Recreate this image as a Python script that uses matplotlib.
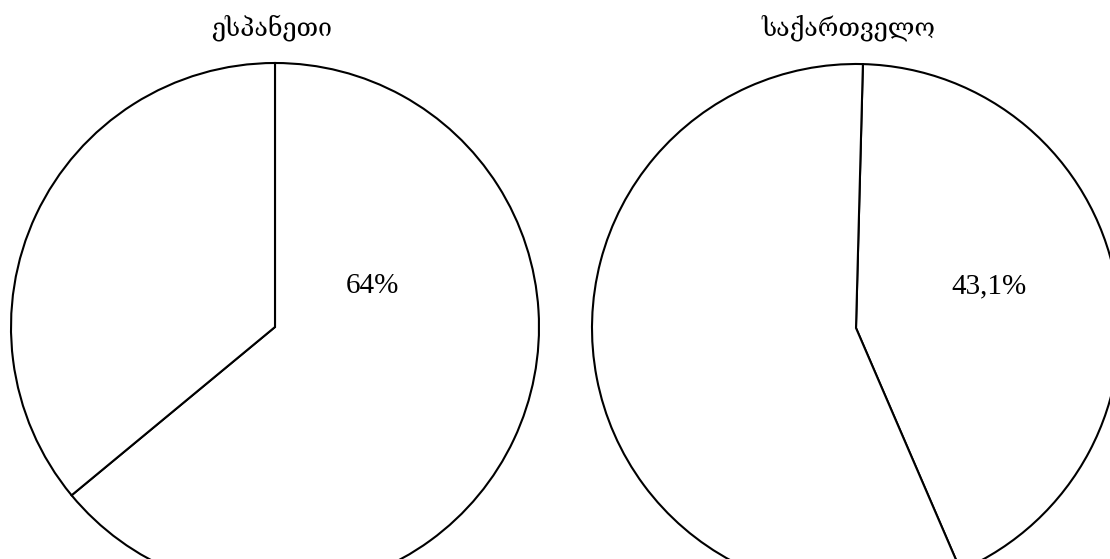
import matplotlib
matplotlib.use("Agg")
import matplotlib.pyplot as plt

# Share of the first category per country (percent)
countries = ["ესპანეთი", "საქართველო"]
shares = [64.0, 43.1]
share_labels = ["64%", "43,1%"]

W, H = 1110, 559
fig = plt.figure(figsize=(W / 100, H / 100), dpi=100)
ax = fig.add_axes([0, 0, 1, 1])

# Layout in pixel units (y measured from the top of the canvas)
centers_px = [(275, 327), (856, 328)]
radius_px = 264
start_angles = [90, 88.5]
label_pos_px = [(372, 286), (989, 286)]
title_pos_px = [(272, 35.5), (848, 35.5)]

for i, (name, share, lab) in enumerate(zip(countries, shares, share_labels)):
    cx, cy = centers_px[i]
    ax.pie(
        [share, 100 - share],
        center=(cx, H - cy),
        radius=radius_px,
        startangle=start_angles[i],
        counterclock=False,
        wedgeprops=dict(facecolor="white", edgecolor="black",
                        linewidth=1.5, joinstyle="miter"),
    )
    lx, ly = label_pos_px[i]
    ax.text(lx, H - ly, lab, ha="center", va="center", fontsize=21,
            family=["Liberation Serif", "DejaVu Serif"], color="black")
    tx, ty = title_pos_px[i]
    ax.text(tx, H - ty, name, ha="center", va="baseline", fontsize=18,
            family=["DejaVu Serif", "DejaVu Sans"], color="black")

ax.set_xlim(0, W)
ax.set_ylim(0, H)
ax.set_aspect("equal")
ax.axis("off")
fig.savefig("out.png", dpi=100, facecolor="white")
